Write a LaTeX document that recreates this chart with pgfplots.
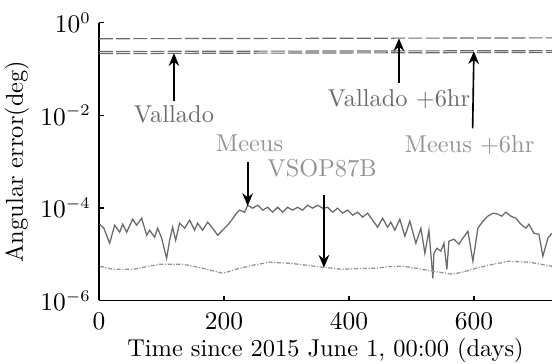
\documentclass[border=0pt]{standalone}
\usepackage{pgfplots}
\pgfplotsset{compat=1.18}
\usetikzlibrary{arrows.meta}

\definecolor{curve}{gray}{0.42}
\definecolor{lbldark}{gray}{0.42}
\definecolor{lbllight}{gray}{0.58}

\begin{document}
\begin{tikzpicture}[font=\fontsize{10.5}{12.5}\selectfont]
\begin{axis}[
  scale only axis,
  width=195pt, height=119.5pt,
  ymode=log,
  xmin=0, xmax=725,
  ymin=1e-6, ymax=1,
  axis lines*=left,
  axis line style={line width=0.6pt},
  xtick={0,200,400,600},
  ytick={1e-6,1e-4,1e-2,1},
  yminorticks=false,
  tick align=inside,
  major tick length=2pt,
  tick style={black, line width=0.6pt},
  xticklabel style={yshift=-2pt},
  xlabel={Time since 2015 June 1, 00:00 (days)},
  ylabel={Angular error(deg)},
  xlabel style={yshift=3pt},
  ylabel style={yshift=-2pt},
  clip=true,
]
% Vallado +6hr
\addplot[curve, line width=0.5pt, dash pattern=on 6pt off 1.4pt] coordinates {
  (0,0.452) (725,0.472)};
% Vallado
\addplot[curve, line width=0.5pt, dash pattern=on 6pt off 1.4pt] coordinates {
  (0,0.216) (725,0.229)};
% Meeus +6hr
\addplot[curve, line width=0.5pt, dash pattern=on 6pt off 1.4pt] coordinates {
  (0,0.240) (725,0.250)};

% Meeus
\addplot[curve, line width=0.55pt] coordinates {
  (1.1,4.43e-5) (8,3.6e-5) (17.1,1.72e-5) (25.1,4.22e-5) (33.1,2.98e-5)
  (37.9,4.43e-5) (44.3,2.98e-5) (53.9,5.69e-5) (60.3,4.22e-5) (68.3,5.98e-5)
  (76.3,2.56e-5) (81.1,3.29e-5) (89.1,2.32e-5) (93.9,3.64e-5) (100.3,2.21e-5)
  (108.3,8.15e-6) (113.1,2.0e-5) (117.9,3.82e-5) (122.7,2.0e-5) (129.1,4.67e-5)
  (137.1,3.64e-5) (145.1,5.42e-5) (153.1,3.29e-5) (157.9,4.67e-5) (165.9,3.29e-5)
  (173.9,4.90e-5) (181.9,3.64e-5) (189.9,2.56e-5) (197.9,3.29e-5) (205.9,4.22e-5)
  (212.3,5.42e-5) (220.3,7.68e-5) (225.1,8.92e-5) (233.1,8.07e-5) (237.9,1.14e-4)
  (245.9,9.85e-5) (253.9,1.14e-4) (261.9,8.92e-5) (269.9,1.03e-4) (277.9,8.07e-5)
  (285.9,1.03e-4) (293.9,8.07e-5) (301.9,1.03e-4) (309.9,8.92e-5) (317.9,1.03e-4)
  (325.9,8.92e-5) (333.9,1.14e-4) (341.9,9.85e-5) (349.9,1.14e-4) (357.9,9.85e-5)
  (365.9,1.03e-4) (373.9,8.07e-5) (381.9,9.85e-5) (389.9,7.68e-5) (397.9,8.92e-5)
  (405.9,6.95e-5) (413.9,8.07e-5) (421.9,6.29e-5) (429.9,7.68e-5) (437.9,5.42e-5)
  (445.9,3.82e-5) (453.9,5.98e-5) (461.9,3.82e-5) (467.1,4.90e-5) (473.5,3.29e-5)
  (481.5,5.69e-5) (489.5,2.44e-5) (497.5,5.15e-5) (507.1,1.72e-5) (515.2,3.64e-5)
  (521.6,1.04e-5) (528.0,3.29e-5) (534.4,3.0e-6) (536.0,1.04e-5) (540.8,1.34e-5)
  (547.2,1.16e-5) (552.0,1.72e-5) (556.8,4.71e-6) (560.0,1.90e-5) (568.0,2.10e-5)
  (576.0,1.64e-5) (582.4,2.21e-5) (590.4,3.13e-5) (598.4,7.02e-6) (606.4,3.64e-5)
  (614.4,5.15e-5) (622.4,6.61e-5) (630.4,7.68e-5) (638.4,7.31e-5) (644.8,6.61e-5)
  (651.2,8.07e-5) (659.2,6.61e-5) (667.2,5.98e-5) (675.2,4.43e-5) (683.2,3.64e-5)
  (688.0,4.43e-5) (696.0,2.83e-5) (704.0,2.70e-5) (710.4,9.0e-6) (718.4,2.21e-5)
  (724.8,2.83e-5)};

% VSOP87B
\addplot[lbllight, line width=0.55pt, dash pattern=on 1.8pt off 0.7pt on 0.5pt off 0.7pt] coordinates {
  (1.1,5.47e-6) (22.3,4.71e-6) (54.3,4.71e-6) (97.5,6.04e-6) (134.3,6.04e-6)
  (165,5.0e-6) (198.3,3.86e-6) (225.1,4.95e-6) (250,5.9e-6) (273.5,6.68e-6)
  (305.5,6.35e-6) (330,5.8e-6) (358.3,5.2e-6) (390.3,4.71e-6) (420,4.9e-6)
  (443.1,4.95e-6) (465,5.4e-6) (486.3,5.47e-6) (510,4.9e-6) (534.3,4.26e-6)
  (566.3,3.67e-6) (585,4.2e-6) (603.1,4.95e-6) (630,6.0e-6) (655.9,7.02e-6)
  (689.7,6.68e-6) (724.8,5.47e-6)};

% annotations
\tikzset{ann/.style={-{Stealth[length=5.5pt,width=4.6pt]}, line width=0.7pt, black}}
\draw[ann] (axis cs:120,0.02) -- (axis cs:120,0.22);
\node[lbldark] at (axis cs:120,0.0105) {Vallado};
\draw[ann] (axis cs:480,0.05) -- (axis cs:480,0.462);
\node[lbldark] at (axis cs:480,0.0224) {Vallado +6hr};
\draw[ann] (axis cs:598,0.0052) -- (axis cs:600,0.242);
\node[lbllight] at (axis cs:593,0.00225) {Meeus +6hr};
\draw[ann] (axis cs:238,9.7e-4) -- (axis cs:238,1.1e-4);
\node[lbllight] at (axis cs:241,0.00249) {Meeus};
\draw[ann] (axis cs:360,1.94e-4) -- (axis cs:360,5.1e-6);
\node[lbllight] at (axis cs:357,7.2e-4) {VSOP87B};
\end{axis}
% page frame with the margins around the plot area
\pgfresetboundingbox
\useasboundingbox ([xshift=-42.6pt, yshift=-27pt]current axis.south west)
  rectangle ([yshift=9.8pt]current axis.north east);
\end{tikzpicture}
\end{document}
